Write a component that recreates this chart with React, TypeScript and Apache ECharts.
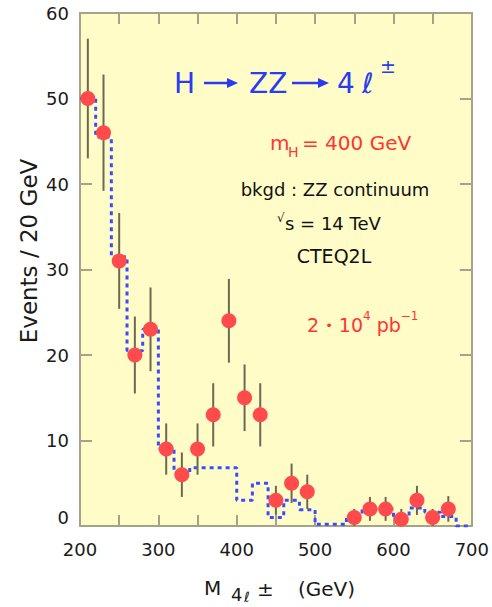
import { useEffect, useRef } from "react";
import * as echarts from "echarts";

// Background (ZZ continuum) histogram: lower bin edges (GeV) and expected events per 20 GeV bin
const binEdges = [200, 220, 240, 260, 280, 300, 320, 340, 360, 380, 400, 420, 440, 460, 480, 500, 520, 540, 560, 580, 600, 620, 640, 660, 680];
const bkgdCounts = [50, 45.5, 31.5, 20.5, 23, 9, 6.2, 6.8, 6.8, 6.8, 3, 5, 1, 3, 1.9, 0.2, 0.2, 1.2, 2, 2, 0.9, 2.1, 1.6, 1.1, 0];
const lastEdge = 700;

// Simulated signal + background events: bin centres, counts and statistical errors
const massCenters = [210, 230, 250, 270, 290, 310, 330, 350, 370, 390, 410, 430, 450, 470, 490, 550, 570, 590, 610, 630, 650, 670];
const eventCounts = [50, 46, 31, 20, 23, 9, 6, 9, 13, 24, 15, 13, 3, 5, 4, 1, 2, 2, 0.8, 3, 1, 2];
const eventErrors = [7, 6.8, 5.6, 4.5, 4.9, 3, 2.6, 3, 3.7, 4.9, 3.9, 3.7, 1.7, 2.3, 2, 1, 1.4, 1.4, 1.2, 1.7, 1, 1.5];

const FONT = "DejaVu Sans";
const BLUE = "#2a3cf2";
const RED = "#ff3434";
const AXIS = "#a5a28a";

export default function App() {
  const ref = useRef<HTMLDivElement>(null);

  useEffect(() => {
    if (!ref.current) return;
    const chart = echarts.init(ref.current, undefined, { renderer: "svg" });

    const histData = binEdges
      .map((e, i) => [e, bkgdCounts[i]])
      .concat([[lastEdge, bkgdCounts[bkgdCounts.length - 1]]]);
    const pointData = massCenters.map((m, i) => [m, eventCounts[i], eventErrors[i]]);

    const xAxisBase = {
      type: "value" as const,
      min: 200,
      max: 700,
      interval: 100,
      axisLine: { show: true, onZero: false, lineStyle: { color: AXIS, width: 2 } },
      axisTick: { show: true, inside: true, length: 11, lineStyle: { color: AXIS, width: 2 } },
      minorTick: { show: true, splitNumber: 2, length: 11, lineStyle: { color: AXIS, width: 2 } },
      splitLine: { show: false },
    };
    const yAxisBase = {
      type: "value" as const,
      min: 0,
      max: 60,
      interval: 10,
      axisLine: { show: true, onZero: false, lineStyle: { color: AXIS, width: 2 } },
      axisTick: { show: true, inside: true, length: 12, lineStyle: { color: AXIS, width: 2 } },
      splitLine: { show: false },
    };

    const txt = (
      x: number,
      y: number,
      text: string,
      size: number,
      fill: string,
      extra: Record<string, unknown> = {}
    ) => ({
      type: "text",
      x,
      y,
      silent: true,
      z: 100,
      style: {
        text,
        fill,
        font: `${size}px "${FONT}"`,
        align: "left",
        verticalAlign: "middle",
        ...extra,
      },
    });

    const arrow = (x1: number, x2: number, y: number) => [
      {
        type: "line",
        silent: true,
        z: 100,
        shape: { x1, y1: y, x2: x2 - 8, y2: y },
        style: { stroke: BLUE, lineWidth: 2.5 },
      },
      {
        type: "polygon",
        silent: true,
        z: 100,
        shape: { points: [[x2 - 11, y - 5], [x2, y], [x2 - 11, y + 5]] },
        style: { fill: BLUE },
      },
    ];

    chart.setOption({
      animation: false,
      backgroundColor: "#ffffff",
      grid: {
        left: 80,
        right: 14,
        top: 13,
        bottom: 81,
        show: true,
        backgroundColor: "#fffcc8",
        borderWidth: 0,
      },
      xAxis: [
        {
          ...xAxisBase,
          position: "bottom",
          axisLabel: { show: true, margin: 14, color: "#1a1a1a", fontFamily: FONT, fontSize: 18 },
        },
        { ...xAxisBase, position: "top", axisLabel: { show: false } },
      ],
      yAxis: [
        {
          ...yAxisBase,
          position: "left",
          axisLabel: {
            show: true,
            margin: 11,
            color: "#1a1a1a",
            fontFamily: FONT,
            fontSize: 18,
            formatter: (v: number) => (v === 0 ? "{z|0}" : String(v)),
            rich: { z: { fontFamily: FONT, fontSize: 18, color: "#1a1a1a", padding: [0, 0, 17, 0] } },
          },
        },
        { ...yAxisBase, position: "right", axisLabel: { show: false } },
      ],
      series: [
        {
          type: "line",
          data: histData,
          step: "end",
          symbol: "none",
          z: 2,
          lineStyle: { color: "#3a4cff", width: 3, type: [4, 4], cap: "butt" },
        },
        {
          type: "custom",
          data: pointData,
          clip: true,
          z: 3,
          renderItem: (_p: unknown, api: any) => {
            const x = api.value(0);
            const y = api.value(1);
            const e = api.value(2);
            const top = api.coord([x, y + e]);
            const bot = api.coord([x, y - e]);
            return {
              type: "line",
              shape: { x1: top[0], y1: top[1], x2: bot[0], y2: bot[1] },
              style: { stroke: "#6d6852", lineWidth: 2 },
            };
          },
        },
        {
          type: "scatter",
          data: pointData.map((d) => [d[0], d[1]]),
          symbol: "circle",
          symbolSize: 15,
          z: 4,
          itemStyle: { color: "#ff4b4b", opacity: 1 },
        },
      ],
      graphic: [
        // process label
        txt(174, 83, "H", 28, BLUE),
        ...arrow(204, 238, 83),
        txt(249, 83, "ZZ", 28, BLUE),
        ...arrow(292, 329, 83),
        txt(337, 83, "4", 28, BLUE),
        txt(362, 83, "ℓ", 28, BLUE, { font: `italic 28px "${FONT}"` }),
        txt(380, 66, "±", 19, BLUE),
        // Higgs mass
        txt(270, 143, "m", 20, RED),
        txt(288, 152, "H", 14, RED),
        txt(302, 143, "= 400 GeV", 20, RED),
        // background and conditions
        txt(335, 189, "bkgd : ZZ continuum", 18, "#111111", { align: "center" }),
        txt(277, 218, "√", 12, "#111111"),
        txt(285, 223, "s = 14 TeV", 18, "#111111"),
        txt(334, 256, "CTEQ2L", 19, "#111111", { align: "center" }),
        // integrated luminosity, with raised exponents
        {
          type: "text",
          x: 307,
          y: 325,
          silent: true,
          z: 100,
          style: {
            text: "{n|2 }{d|•}{n| 10}{s|4}{n| pb}{s|−1}",
            align: "left",
            verticalAlign: "middle",
            rich: {
              n: { fontFamily: FONT, fontSize: 19, lineHeight: 30, fill: RED, verticalAlign: "middle" },
              d: { fontFamily: FONT, fontSize: 13, lineHeight: 30, fill: RED, verticalAlign: "middle" },
              s: { fontFamily: FONT, fontSize: 12, lineHeight: 14, fill: RED, verticalAlign: "top" },
            },
          },
        },
        // x axis title
        txt(204, 588, "M", 20, "#1a1a1a"),
        txt(231, 594, "4", 18, "#1a1a1a"),
        txt(244, 597, "ℓ", 14, "#1a1a1a", { font: `italic 14px "${FONT}"` }),
        txt(257, 589, "±", 20, "#1a1a1a"),
        txt(298, 589, "(GeV)", 20, "#1a1a1a"),
        // y axis title
        {
          type: "text",
          x: 29,
          y: 251,
          rotation: Math.PI / 2,
          silent: true,
          style: {
            text: "Events / 20 GeV",
            fill: "#1a1a1a",
            font: `23px "${FONT}"`,
            align: "center",
            verticalAlign: "middle",
          },
        },
      ],
    });

    return () => chart.dispose();
  }, []);

  return (
    <div
      ref={ref}
      style={{ position: "fixed", left: 0, top: 0, width: 492, height: 607, background: "#fff" }}
    />
  );
}
